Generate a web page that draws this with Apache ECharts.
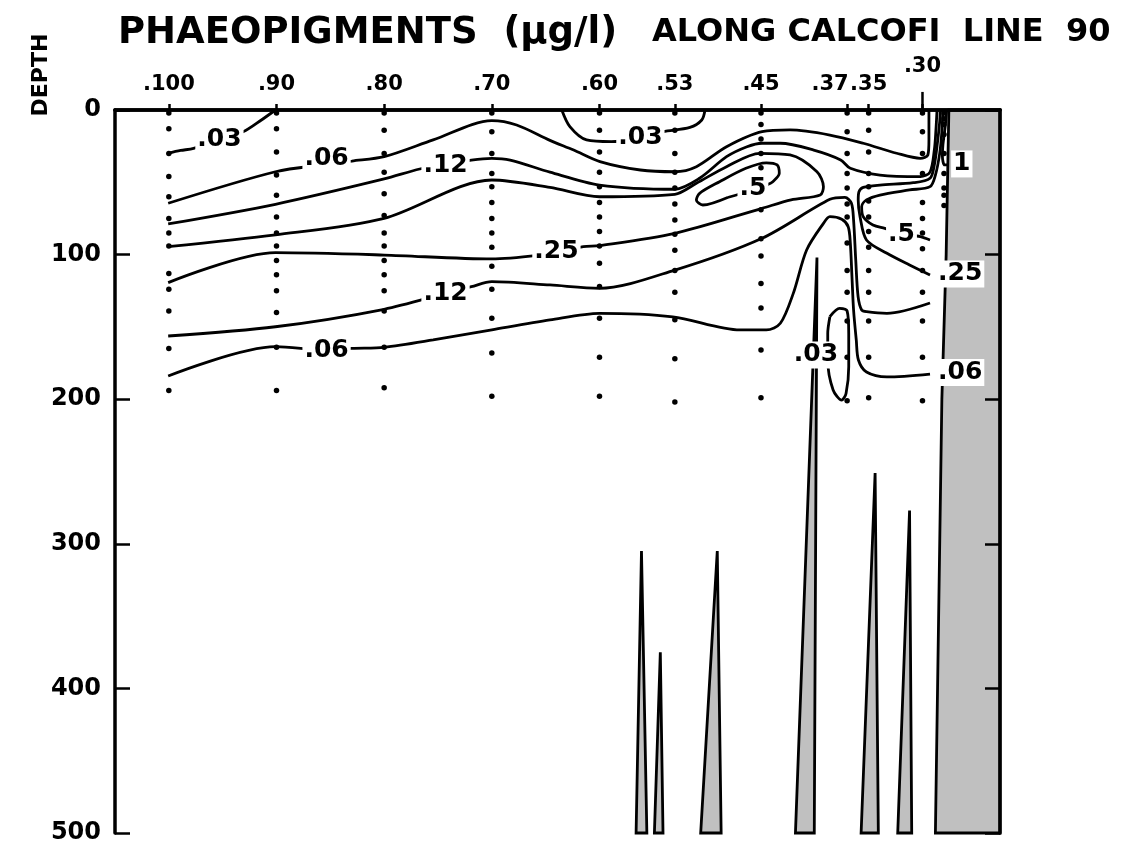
<!DOCTYPE html>
<html>
<head>
<meta charset="utf-8">
<script src="https://cdn.jsdelivr.net/npm/echarts@6/dist/echarts.min.js"></script>
<style>
  html, body { margin: 0; padding: 0; background: #fff; }
  #chart { width: 1124px; height: 851px; }
</style>
</head>
<body>
<div id="chart"></div>
<script>
// stations along CalCOFI line 90 and the depths (m) sampled at each
const stations = [100, 90, 80, 70, 60, 53, 45, 37, 35, 30, 28]
const sampleDepths = [
  [2, 13, 30, 46, 60, 75, 85, 94, 113, 124, 139, 165, 194],
  [2, 13, 29, 45, 59, 74, 85, 94, 104, 114, 125, 140, 164, 194],
  [2, 14, 30, 43, 58, 73, 85, 94, 104, 114, 125, 139, 164, 192],
  [2, 15, 30, 44, 53, 64, 75, 85, 95, 108, 124, 144, 168, 198],
  [2, 14, 29, 43, 53, 64, 74, 84, 94, 106, 122, 144, 171, 198],
  [2, 14, 30, 43, 54, 65, 76, 86, 97, 111, 126, 145, 172, 202],
  [2, 10, 20, 30, 40, 57, 69, 89, 101, 120, 137, 166, 199],
  [2, 15, 30, 44, 54, 65, 74, 92, 111, 126, 146, 171, 201],
  [2, 14, 29, 44, 53, 63, 74, 84, 95, 111, 126, 146, 171, 199],
  [2, 15, 30, 44, 64, 75, 85, 96, 111, 126, 146, 171, 201],
  [2, 6, 10, 17, 30, 44, 54, 59, 66]
]

// contour lines as [station, depth]
const c03West = [[100.1, 30], [98.9, 28], [97.7, 26.5], [93.1, 15], [91.4, 6.9], [90.1, 0]]
const c03Surface = [[63.5, 0], [62.75, 11.5], [61.2, 20.7], [58.9, 21.9], [56.2, 19], [54.1, 15], [51.6, 12], [50.5, 6.9], [50.2, 0]]
const c06Upper = [[100.06, 64.5], [90.1, 42.7], [85.35, 37.6], [83.0, 35.3], [80.0, 32.3], [75.45, 20.7], [70.0, 7.4], [67.7, 10.4],
  [64.6, 21], [62.4, 27.7], [59.96, 35.7], [56.2, 41.5], [53.0, 42.7], [51.0, 39.2], [48.2, 25.4], [44.9, 15.0], [42.3, 13.8],
  [38.6, 17.3], [35.5, 23.0], [32.4, 29.9], [30.2, 33.4], [29.5, 31.1], [29.4, 20.7], [29.4, 0]]
const c12Upper = [[100.06, 78.8], [90.1, 65.2], [80.0, 47.7], [76.7, 40.8], [74.2, 37.6], [71.9, 34.6], [70.0, 33.4], [68.3, 34.6],
  [64.6, 43], [60.0, 51.9], [53.0, 54.8], [50.7, 47.2], [48.2, 32.3], [46.3, 25.4], [44.9, 23.0], [43.2, 23.0], [40.1, 27.7],
  [37.6, 34.5], [36.7, 40.3], [33.95, 45.0], [30.2, 46.1], [29.3, 42.9], [28.9, 27.7], [28.75, 13.8], [28.65, 0]]
const c25Tongue = [[100.06, 94.5], [90.1, 86.4], [80.0, 74.9], [70.0, 48.4], [64.6, 53.5], [60.0, 60.0], [53.0, 58.3], [51.0, 50.7],
  [48.2, 39.2], [45.1, 30.0], [42.3, 31.1], [39.8, 42.7], [39.2, 53.0], [39.5, 58.8], [42.2, 62.2], [44.9, 68.0], [53.0, 85.3],
  [60.0, 93.8], [61.5, 94.5], [63.7, 97.9], [65.4, 100.3], [70.0, 103.0], [80.0, 100.3], [90.1, 98.7], [100.06, 119.4]]
const c05Loop = [[48.1, 60.5], [50.4, 65.7], [51.0, 62.2], [50.7, 57.6], [48.85, 49.6], [46.4, 40.3], [44.5, 36.5], [43.5, 38.0],
  [43.3, 43.8], [43.9, 49.6], [44.5, 51.9], [45.7, 55.3], [48.1, 60.5]]
const c12Lower = [[100.06, 156.3], [90.1, 149.9], [80.0, 137.8], [74.2, 126.6], [71.9, 122.2], [70.0, 118.7], [64.6, 121], [60.0, 123.3],
  [53.0, 110.7], [44.9, 88.7], [38.6, 61.8], [37.2, 60.4], [36.6, 64.5], [36.4, 76.1], [36.2, 103.7], [35.98, 129.1], [35.65, 138.3],
  [35.2, 139.5], [33.3, 140.6], [29.3, 133.5]]
const c06Lower = [[100.06, 184], [90.1, 163.7], [85.35, 166], [83.0, 164.8], [80.0, 164.1], [75.45, 159], [70.0, 152], [64.6, 145.2],
  [60.0, 140.6], [53.2, 143], [46.95, 152.1], [44.5, 152.1], [43.2, 147.5], [42.0, 126.8], [40.76, 96.8], [39.2, 78.4], [38.6, 73.8],
  [37.5, 75.6], [36.9, 80.7], [36.7, 92.2], [36.55, 115.3], [36.4, 138.3], [36.15, 159], [35.95, 172.9], [35.2, 181.2], [33.3, 184.6],
  [29.3, 182.6]]
const c03Loop = [[38.6, 142.9], [37.7, 137.2], [37.0, 139], [36.85, 154.5], [36.85, 177.6], [37.1, 196], [37.5, 200.6], [38.3, 193.6],
  [38.8, 172.9], [38.8, 154.5], [38.6, 142.9]]
const c25Coast = [[28.35, 0], [28.4, 8], [28.6, 22], [28.9, 38], [29.3, 47.2], [30.85, 50.3], [33.95, 51.9], [35.5, 53.5], [35.9, 56.5],
  [35.97, 62.2], [35.8, 73.8], [35.2, 89.9], [33.3, 99.1], [31.2, 107.2], [29.3, 114.1]]
const c05Coast = [[28.1, 0], [28.2, 15], [28.4, 30], [28.8, 45], [29.3, 53.0], [31.2, 55.3], [33.95, 58.8], [35.2, 62.2], [35.65, 66.9],
  [35.5, 73.8], [34.6, 79.5], [33.5, 81.8], [31.9, 85.3], [30.2, 87.6], [29.3, 89.9]]
const c1Coast = [[27.75, 0], [27.9, 12], [28.1, 24], [28.15, 32], [27.95, 38], [27.6, 38]]

const contours = [c03West, c03Surface, c06Upper, c12Upper, c25Tongue, c05Loop, c12Lower, c06Lower, c03Loop, c25Coast, c05Coast, c1Coast]

// contour labels: [text, station, depth]
const contourLabels = [
  ['.03', 95.3, 20.7], ['.06', 85.35, 33.5], ['.12', 74.3, 38.2], ['.25', 64.0, 98],
  ['.12', 74.3, 126.8], ['.06', 85.35, 166.5], ['.03', 56.2, 19], ['.5', 45.75, 54.6],
  ['.03', 39.9, 169.4], ['1', 26.35, 37.3], ['.5', 31.95, 85.8], ['.25', 26.5, 113.4], ['.06', 26.5, 181.5]
]

// bottom topography: seamounts and the continental slope
const slope = [[27.55, 0], [27.8, 100], [28.2, 200], [28.8, 500], [22.8, 500], [22.8, 0]]
const seamounts = [
  [[56.6, 500], [56.1, 305], [55.6, 500]],
  [[54.9, 500], [54.35, 375], [54.1, 500]],
  [[50.6, 500], [49.06, 305], [48.7, 500]],
  [[41.8, 500], [39.8, 102], [40.05, 500]],
  [[35.7, 500], [34.4, 251], [34.1, 500]],
  [[32.3, 500], [31.2, 277], [31.0, 500]]
]
const bathymetry = [...seamounts, slope]

const depthTicks = [0, 100, 200, 300, 400, 500]

const FONT = 'DejaVu Sans'
const chart = echarts.init(document.getElementById('chart'))

const xBase = { type: 'value', min: 22.8, max: 105, inverse: true, splitLine: { show: false }, z: 10 }
const yBase = { type: 'value', min: 0, max: 500, interval: 100, inverse: true, splitLine: { show: false }, z: 10 }
const tickFont = { fontFamily: FONT, fontWeight: 'bold', fontSize: 21, color: '#000' }

chart.setOption({
  animation: false,
  backgroundColor: '#fff',
  grid: { left: 115, right: 124, top: 110, bottom: 18 },
  xAxis: [
    { ...xBase, position: 'bottom', axisLine: { lineStyle: { color: '#000', width: 3.5 } }, axisTick: { show: false }, axisLabel: { show: false } },
    {
      ...xBase,
      position: 'top',
      axisLine: { lineStyle: { color: '#000', width: 3.5 } },
      axisTick: { customValues: stations, length: 6, lineStyle: { color: '#000', width: 2.5 } },
      axisLabel: {
        customValues: stations,
        margin: 15,
        ...tickFont,
        formatter: v => {
          if (v === 30) return '{hi|.30}'
          if (v === 37) return '{l|.37}'
          if (v === 28) return '{r|.28}'
          return '.' + v
        },
        rich: {
          hi: { ...tickFont, padding: [0, 0, 18, 0] },
          l: { ...tickFont, padding: [0, 34, 0, 0] },
          r: { ...tickFont, padding: [0, 0, 0, 12] }
        }
      }
    }
  ],
  yAxis: [
    {
      ...yBase,
      position: 'left',
      axisLine: { lineStyle: { color: '#000', width: 3.5 } },
      axisTick: { inside: true, length: 15, lineStyle: { color: '#000', width: 2.5 } },
      axisLabel: { margin: 14, color: '#000', fontFamily: FONT, fontWeight: 'bold', fontSize: 24, customValues: depthTicks }
    },
    {
      ...yBase,
      position: 'right',
      axisLine: { show: true, lineStyle: { color: '#000', width: 3.5 } },
      axisTick: { show: true, inside: true, length: 15, lineStyle: { color: '#000', width: 2.5 } },
      axisLabel: { show: false }
    }
  ],
  graphic: [
    { type: 'text', left: 118, top: 15, style: { text: 'PHAEOPIGMENTS  (μg/l)', font: `bold 37px "${FONT}"`, fill: '#000' } },
    { type: 'text', left: 652, top: 17, style: { text: 'ALONG CALCOFI  LINE  90', font: `bold 32px "${FONT}"`, fill: '#000' } },
    {
      type: 'text', x: 41, y: 75, rotation: Math.PI / 2,
      style: { text: 'DEPTH', font: `bold 22px "${FONT}"`, fill: '#000', align: 'center', verticalAlign: 'middle' }
    }
  ],
  series: [
    {
      type: 'custom',
      z: 1,
      silent: true,
      data: bathymetry.map(b => b[1]),
      renderItem: (params, api) => ({
        type: 'polygon',
        shape: { points: bathymetry[params.dataIndex].map(p => api.coord(p)) },
        style: { fill: '#c0c0c0', stroke: '#000', lineWidth: 2.8 }
      })
    },
    ...contours.map(c => ({
      type: 'line',
      data: c,
      smooth: 0.3,
      symbol: 'none',
      silent: true,
      z: 3,
      lineStyle: { color: '#000', width: 2.8 }
    })),
    {
      // the long tick above station 30
      type: 'line',
      data: [[30, 0], [30, -12.5]],
      clip: false,
      symbol: 'none',
      silent: true,
      z: 3,
      lineStyle: { color: '#000', width: 2.5 }
    },
    {
      type: 'scatter',
      symbolSize: 5.5,
      silent: true,
      z: 4,
      itemStyle: { color: '#000', opacity: 1 },
      data: stations.flatMap((s, i) => sampleDepths[i].map(d => [s, d]))
    },
    {
      type: 'scatter',
      symbolSize: 1,
      silent: true,
      z: 6,
      itemStyle: { color: 'transparent', opacity: 1 },
      data: contourLabels.map(([t, s, d]) => [s, d, t]),
      label: {
        show: true,
        position: 'inside',
        formatter: p => p.data[2],
        color: '#000',
        opacity: 1,
        textBorderWidth: 0,
        fontFamily: FONT,
        fontWeight: 'bold',
        fontSize: 25,
        lineHeight: 26,
        backgroundColor: '#fff',
        padding: [1, 2, 0, 2]
      }
    }
  ]
})
</script>
</body>
</html>
